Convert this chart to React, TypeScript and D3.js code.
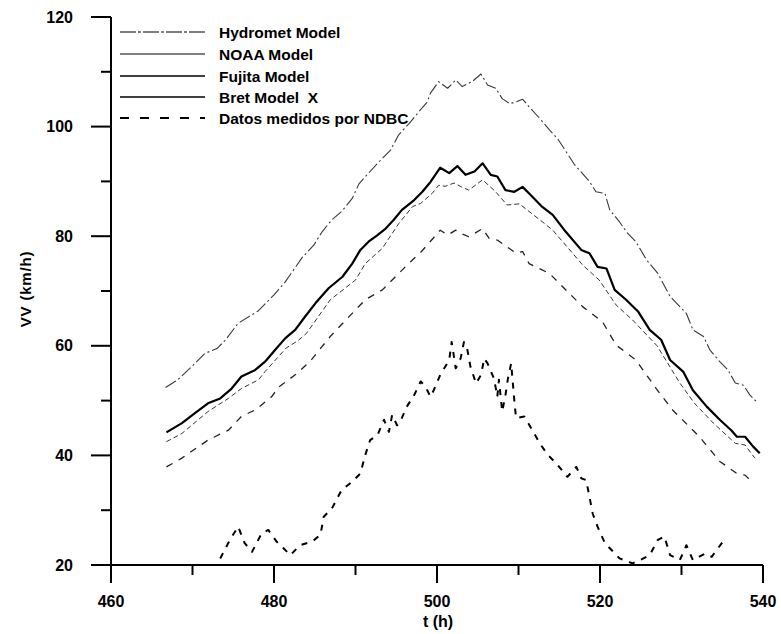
import React from "react";
import * as d3 from "d3";

// ---------- data ----------
const tHydromet = [466.7,468.2,469.9,471.5,473,474,475.6,478.1,480,481.4,483.4,484.9,485.9,487.1,488.3,489.6,490.4,491.6,492.9,494.3,495.3,496.6,497.6,498.8,499.2,500.2,501.3,502.3,503.1,504.3,505.4,506.2,507.2,508,508.9,509.7,510.5,511.3,512.6,513.8,514.8,516.9,518.7,519.5,520.6,521.2,522.4,523.4,524.4,525.7,527.1,528.6,530.6,531.4,532.7,533.5,534.7,535.7,536.6,537.6,538.4,539.4];
const vHydromet = [52.4,53.8,56.2,58.6,59.5,61,64.1,66.4,69.3,71.7,76,78.4,80.8,83,84.5,86.9,89.5,91.5,93.6,95.7,98.5,100.6,102.4,104.5,106.1,108.2,107,108.5,107.3,108.2,109.6,107.6,107,105.1,104.2,104.5,105,103.6,101.5,99.4,97.8,93,90,88.1,87.8,84.8,82.6,80.5,79,75.7,73.2,69,65.9,62.9,61.7,59.2,57.1,55.6,53.2,52.8,51,49.5];

const tFujita = [466.8,468.7,470.3,471.9,473.4,474.8,476,477.7,478.9,480.1,481.4,482.6,483.8,485.1,486.7,488.4,489.6,490.6,491.6,492.7,493.7,494.7,495.7,497.2,498.2,499.2,500.4,501.5,502.5,503.5,504.6,505.6,506.6,507.4,508.4,509.5,510.5,511.7,512.8,514.2,515.8,517.7,518.7,519.7,520.8,521.8,523.2,524.7,526.1,527.5,528.6,530.2,531.4,533.1,534.7,536.1,536.8,537.8,538.8,539.6];
const vFujita = [44.2,45.9,47.7,49.5,50.4,52.2,54.4,55.6,57.1,59.2,61.4,62.9,65.3,67.8,70.5,72.6,75,77.5,79,80.2,81.4,83,84.8,86.6,88.1,89.9,92.5,91.5,92.8,91.2,91.8,93.3,91.2,90.9,88.4,88.1,89,87.2,85.5,83.9,80.8,77.5,76.9,74.4,74.1,70.2,68.4,66.2,62.9,61.1,57.4,55.3,51.9,48.9,46.5,44.6,43.4,43.4,41.6,40.4];

const tNOAA = [466.8,468.7,471.9,474.4,476,478.1,478.9,481.5,483,484,486.9,490,491.2,493.3,495.3,497,498,499.4,500.2,501,502.1,503,503.9,505.6,507.2,508.6,510.1,512.7,514.2,517.9,519.9,522,524,527,529.8,531.6,533.9,536.6,537.8,539];
const vNOAA = [42.5,44,48,50.4,52.2,53.8,55.3,59.6,61,62.3,68.4,72,75,77.8,82.3,85.4,86,87.8,89.3,89.1,89.7,89,88.4,90.3,88.1,85.7,85.9,82.9,81.1,74.7,72,67.4,64.7,60,53.2,49.5,45.9,42.2,41.9,39.5];

const tBret = [466.8,468.7,471.9,474.4,476,477.7,479.7,480.6,482.6,484.4,486.9,489,491.2,493.3,496.5,498.1,500.4,501.3,502.3,503.1,503.9,505.6,506.4,507.4,509.7,510.5,511.3,513.8,515,517.9,520.3,522,524.4,526.9,528.9,532.2,534.7,536.8,537.8,538.6];
const vBret = [37.9,39.5,42.8,44.6,47.1,48.3,50.7,52.5,54.7,57.1,61.7,65,68.4,70.2,75,77.2,81.1,80.2,81.1,80.4,79.9,81.4,79.6,79.3,76.9,77.2,75,73.2,71.4,67.1,64.4,60.1,57.4,52.2,48.3,43.4,38.9,36.7,36.4,35.2];

const tNDBC = [473.4,474.6,475.6,476.4,477.3,478.5,479.3,480.3,481.2,482,483.2,484.7,485.7,486.1,487.1,488.3,489.6,490.6,491.2,491.8,492.7,493.5,494.1,494.5,495.1,495.5,496.3,497.2,498,498.6,499.2,499.6,500.4,501.5,501.8,502.3,502.9,503.3,503.7,504.1,504.8,505.4,505.8,506.2,507,507.4,507.6,508,508.4,508.7,509.1,509.5,509.7,510.7,511.7,512.6,513.6,514.6,516,517.1,517.7,518.3,518.7,519.1,519.7,520.6,522.4,524,524.9,526.1,527.1,527.9,528.6,529.8,530.6,531.4,532.9,533.7,535.1];
const vNDBC = [21.2,24.6,27,24,22.4,25.8,26.4,24.3,23,21.8,23.6,24.3,25.5,28.8,30.3,33.7,35.2,36.7,40.1,42.8,43.7,46.5,44.3,47.4,45.5,46.2,48.9,51,53.5,52.5,50.7,51.9,54.7,57.4,60.7,55.9,57.7,60.7,59.5,56.2,53.1,54.7,57.7,56.8,54,50.7,53.8,48,51,54,56.8,49.8,46.8,47.1,44.6,42.2,40.1,38.6,36.1,37.9,35.8,35.5,32.5,29.4,27,24,21.2,20.3,20.9,21.8,24.6,25.2,21.8,20.9,23.6,20.9,22.1,21.5,24.3];

const legendLabels = ["Hydromet Model", "NOAA Model", "Fujita Model", "Bret Model\u00a0\u00a0X", "Datos medidos por NDBC"];
const xTicksMajor = [460, 480, 500, 520, 540];
const xTicksMinor = [470, 490, 510, 530];
const yTicksMajor = [20, 40, 60, 80, 100, 120];
const yTicksMinor = [30, 50, 70, 90, 110];
const xTitle = "t (h)";
const yTitle = "VV (km/h)";

// ---------- layout ----------
const W = 781, H = 634;
const x = d3.scaleLinear().domain([460, 540]).range([111, 763]);
const y = d3.scaleLinear().domain([20, 120]).range([565, 17]);

const FONT = "'Liberation Sans', Arial, sans-serif";

type Series = { t: number[]; v: number[]; stroke: string; width: number; dash?: string; legendDash?: string; legendWidth: number };

const series: Series[] = [
  { t: tHydromet, v: vHydromet, stroke: "#3a3a3a", width: 1.1, dash: "12,3,2,3", legendDash: "16,2,3,2", legendWidth: 1.2 },
  { t: tNOAA, v: vNOAA, stroke: "#333", width: 1.0, dash: "5,3", legendWidth: 1.2 },
  { t: tBret, v: vBret, stroke: "#222", width: 1.3, dash: "7,7", legendWidth: 1.5 },
  { t: tFujita, v: vFujita, stroke: "#000", width: 2.2, legendWidth: 1.6 },
  { t: tNDBC, v: vNDBC, stroke: "#000", width: 2, dash: "6,7", legendDash: "9,11", legendWidth: 2 },
];
// legend order matches legendLabels
const legendOrder = [0, 1, 3, 2, 4];

export default function App() {
  const line = d3.line<[number, number]>().x((d) => x(d[0])).y((d) => y(d[1])).curve(d3.curveLinear);
  const legendY = [32, 54, 76, 97, 118];
  return (
    <svg width={W} height={H} style={{ position: "absolute", left: 0, top: 0, background: "#fff" }}>
      <rect x={0} y={0} width={W} height={H} fill="#fff" />
      {/* axes */}
      <line x1={x(460)} y1={y(120)} x2={x(460)} y2={y(20) + 18} stroke="#000" strokeWidth={2} />
      <line x1={x(460)} y1={y(20)} x2={x(540)} y2={y(20)} stroke="#000" strokeWidth={2} />
      {yTicksMajor.map((v) => (
        <g key={"ym" + v}>
          <line x1={x(460) - 20} x2={x(460)} y1={y(v)} y2={y(v)} stroke="#000" strokeWidth={2} />
          <text x={73} y={y(v) + 5.5} textAnchor="end" fontFamily={FONT} fontWeight="bold" fontSize={16}>{v}</text>
        </g>
      ))}
      {yTicksMinor.map((v) => (
        <line key={"yn" + v} x1={x(460) - 10} x2={x(460)} y1={y(v)} y2={y(v)} stroke="#000" strokeWidth={2} />
      ))}
      {xTicksMajor.map((t) => (
        <g key={"xm" + t}>
          <line x1={x(t)} x2={x(t)} y1={y(20)} y2={y(20) + 18} stroke="#000" strokeWidth={2} />
          <text x={x(t)} y={607} textAnchor="middle" fontFamily={FONT} fontWeight="bold" fontSize={16}>{t}</text>
        </g>
      ))}
      {xTicksMinor.map((t) => (
        <line key={"xn" + t} x1={x(t)} x2={x(t)} y1={y(20)} y2={y(20) + 10} stroke="#000" strokeWidth={2} />
      ))}
      <text x={438} y={627} textAnchor="middle" fontFamily={FONT} fontWeight="bold" fontSize={16}>{xTitle}</text>
      <text transform={`translate(31,289) rotate(-90)`} textAnchor="middle" fontFamily={FONT} fontWeight="bold" fontSize={15} letterSpacing={0.8}>{yTitle}</text>

      {/* series */}
      {series.map((s, i) => (
        <path
          key={"s" + i}
          d={line(s.t.map((t, j) => [t, s.v[j]] as [number, number])) || ""}
          fill="none"
          stroke={s.stroke}
          strokeWidth={s.width}
          strokeDasharray={s.dash}
          strokeLinejoin="round"
        />
      ))}

      {/* legend */}
      {legendLabels.map((lab, i) => {
        const s = series[legendOrder[i]];
        return (
          <g key={"l" + i}>
            <line x1={120} x2={205} y1={legendY[i]} y2={legendY[i]} stroke="#000" strokeWidth={s.legendWidth} strokeDasharray={s.legendDash} />
            <text x={219} y={legendY[i] + 5.5} fontFamily={FONT} fontWeight="bold" fontSize={15.5}>{lab}</text>
          </g>
        );
      })}
    </svg>
  );
}
